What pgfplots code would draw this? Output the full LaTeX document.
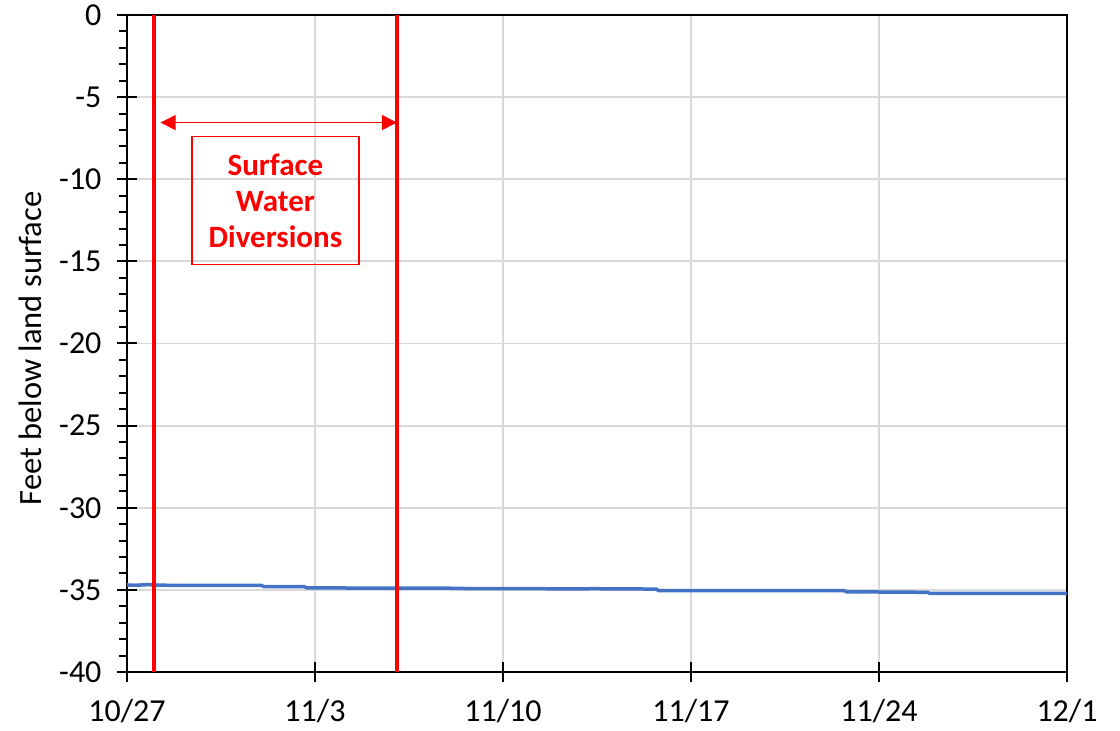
\documentclass[border=0pt]{standalone}
\usepackage{fontspec}
\setmainfont{Carlito}
\usepackage{pgfplots}
\pgfplotsset{compat=1.18}
\usetikzlibrary{arrows.meta}
\definecolor{lineblue}{HTML}{4472C4}
\definecolor{gridgray}{HTML}{D9D9D9}

\begin{document}
\begin{tikzpicture}
\begin{axis}[
  scale only axis, width=940pt, height=657pt,
  xmin=0, xmax=35, ymin=-40, ymax=0,
  xtick={0,7,...,35},
  xticklabels={10/27,11/3,11/10,11/17,11/24,12/1},
  ytick={-40,-35,...,0},
  yticklabels={-40,-35,-30,-25,-20,-15,-10,-5,0},
  minor y tick num=4,
  xtick pos=bottom, ytick pos=left,
  xtick align=center, ytick align=center,
  major tick length=20pt,
  minor tick length=8pt,
  minor y tick style={xshift=-4pt},
  xmajorgrids, ymajorgrids,
  grid style={gridgray, line width=1.8pt},
  axis line style={black, line width=2pt},
  tick style={black, line width=2pt},
  ticklabel style={font=\fontsize{32}{38}\selectfont},
  xticklabel style={yshift=-14pt},
  yticklabel style={xshift=-12pt},
  ylabel={Feet below land surface},
  ylabel style={font=\fontsize{32.5}{38}\selectfont,
    at={(axis description cs:-0.1032,0.4924)}, anchor=center},
  clip=false,
]
% water level
\addplot[lineblue, line width=3.5pt] coordinates {
 (0,-34.70) (0.3,-34.72) (0.8,-34.68) (1.0,-34.70) (1.5,-34.72) (3,-34.72)
 (5.0,-34.73) (5.1,-34.80) (6.6,-34.81) (6.7,-34.88) (9,-34.89) (10,-34.90)
 (12,-34.90) (13,-34.93) (13.9,-34.93) (15,-34.92) (16,-34.94) (17.5,-34.93)
 (18,-34.94) (19.7,-34.95) (19.8,-35.05) (23,-35.05) (26.7,-35.05) (26.8,-35.12)
 (28,-35.13) (29.8,-35.15) (29.9,-35.22) (32,-35.22) (33,-35.22) (35,-35.22)
};
% diversion period
\addplot[red, line width=3.5pt] coordinates {(1,-40) (1,0)};
\addplot[red, line width=3.5pt] coordinates {(10.05,-40) (10.05,0)};
\draw[red, line width=1.3pt, {Triangle[length=15pt,width=15pt]}-{Triangle[length=15pt,width=15pt]}]
  (axis cs:1.25,-6.55) -- (axis cs:10.05,-6.55);
\node[draw=red, line width=1.5pt, text=red, font=\bfseries\fontsize{31}{36}\selectfont,
  align=center, minimum width=167pt, minimum height=128pt, inner sep=0pt]
  at (axis cs:5.525,-11.3) {Surface\\Water\\Diversions};
\path ([xshift=-127pt,yshift=-59pt]rel axis cs:0,0) rectangle ([xshift=53pt,yshift=15pt]rel axis cs:1,1);
\end{axis}
\end{tikzpicture}
\end{document}
